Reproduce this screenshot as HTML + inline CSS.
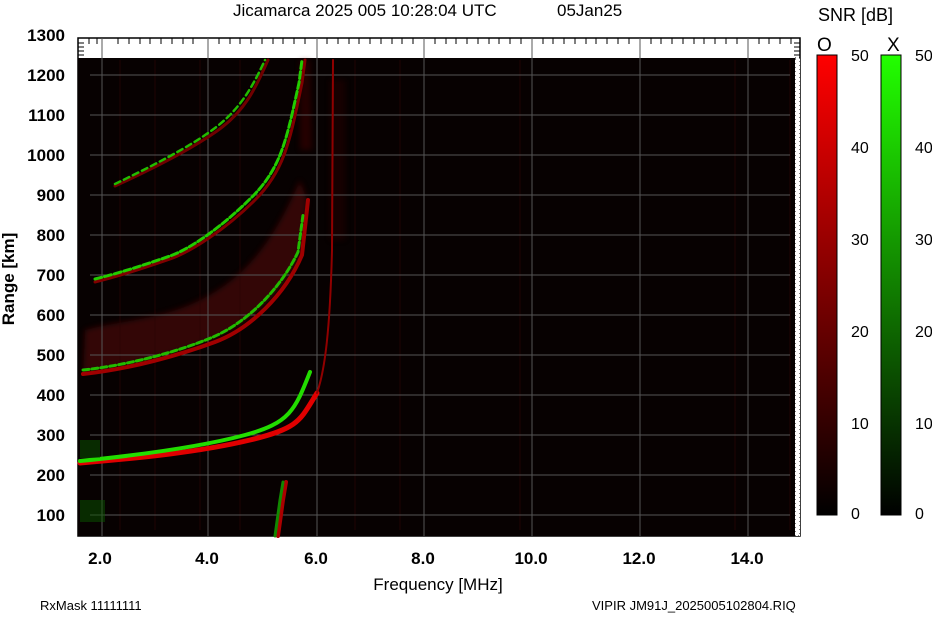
<!DOCTYPE html>
<html><head><meta charset="utf-8"><style>
html,body{margin:0;padding:0;background:#fff;}
body{width:932px;height:614px;overflow:hidden;font-family:"Liberation Sans",Arial,sans-serif;}
</style></head><body>
<svg width="932" height="614" xmlns="http://www.w3.org/2000/svg" font-family="Liberation Sans, Arial, sans-serif">
<defs>
<linearGradient id="go" x1="0" y1="1" x2="0" y2="0"><stop offset="0" stop-color="#000"/><stop offset="1" stop-color="#ff0000"/></linearGradient>
<linearGradient id="gx" x1="0" y1="1" x2="0" y2="0"><stop offset="0" stop-color="#000"/><stop offset="1" stop-color="#22ff00"/></linearGradient>
<filter id="bl"><feGaussianBlur stdDeviation="3"/></filter>
</defs>
<text x="233" y="16" font-size="17">Jicamarca 2025 005 10:28:04 UTC</text>
<text x="557" y="16" font-size="17">05Jan25</text>
<!-- frame -->
<rect x="78" y="38" width="722" height="498" fill="#fff" stroke="#000" stroke-width="1.5"/>
<rect x="78" y="58" width="717" height="478" fill="#070101"/>
<!-- diffuse red -->
<g filter="url(#bl)" opacity="0.45">
<path d="M83,372 C130,367 180,352 215,338 S285,290 300,255 L307,200 L300,180 C270,250 240,280 200,300 S120,320 85,330 Z" fill="#6a0808"/>
<path d="M300,60 L310,60 L312,150 L300,150 Z" fill="#4a0505"/>
<path d="M330,240 L345,240 L345,80 L330,80 Z" fill="#2a0303"/>
</g>
<g stroke="#2a0404" stroke-width="1" opacity="0.7">
<line x1="120" y1="60" x2="120" y2="530"/><line x1="155" y1="60" x2="155" y2="530"/><line x1="200" y1="60" x2="200" y2="530"/>
<line x1="240" y1="60" x2="240" y2="530"/><line x1="355" y1="60" x2="355" y2="530"/><line x1="400" y1="60" x2="400" y2="530"/>
<line x1="520" y1="60" x2="520" y2="530"/><line x1="640" y1="60" x2="640" y2="530"/><line x1="735" y1="60" x2="735" y2="530"/><line x1="790" y1="60" x2="790" y2="530"/>
</g>
<!-- grid -->
<g stroke="#555" stroke-width="1">
<line x1="90" y1="75" x2="790" y2="75"/><line x1="90" y1="115" x2="790" y2="115"/><line x1="90" y1="155" x2="790" y2="155"/>
<line x1="90" y1="195" x2="790" y2="195"/><line x1="90" y1="235" x2="790" y2="235"/><line x1="90" y1="275" x2="790" y2="275"/>
<line x1="90" y1="315" x2="790" y2="315"/><line x1="90" y1="355" x2="790" y2="355"/><line x1="90" y1="395" x2="790" y2="395"/>
<line x1="90" y1="435" x2="790" y2="435"/><line x1="90" y1="475" x2="790" y2="475"/><line x1="90" y1="515" x2="790" y2="515"/>
<line x1="102" y1="38" x2="102" y2="536"/><line x1="208" y1="38" x2="208" y2="536"/><line x1="317" y1="38" x2="317" y2="536"/>
<line x1="424" y1="38" x2="424" y2="536"/><line x1="532" y1="38" x2="532" y2="536"/><line x1="640" y1="38" x2="640" y2="536"/><line x1="748" y1="38" x2="748" y2="536"/>
</g>
<!-- traces -->
<g fill="none" stroke-linecap="round">
<path d="M80,463 C140,458 200,452 250,440 S300,420 317,393" stroke="#e00000" stroke-width="5"/>
<path d="M80,461 C140,455 200,447 245,435 S295,410 310,372" stroke="#22dd00" stroke-width="4"/>
<path d="M317,393 C325,370 330,330 332,250 L333,60" stroke="#900000" stroke-width="2"/>
<path d="M83,374 C130,369 180,355 215,342 S285,295 302,255 L308,200" stroke="#a00000" stroke-width="4"/>
<path d="M83,370 C130,365 180,351 213,337 S280,290 298,252 L303,215" stroke="#22bb00" stroke-width="3" stroke-dasharray="6 3"/>
<path d="M95,282 C120,276 150,266 170,259 S225,230 255,200 S290,140 302,83 L305,60" stroke="#800000" stroke-width="3"/>
<path d="M95,279 C120,273 150,263 170,256 S222,227 252,197 S287,137 299,83 L302,60" stroke="#22cc00" stroke-width="3" stroke-dasharray="7 3"/>
<path d="M115,186 C150,170 190,150 217,131 S255,90 268,60" stroke="#700000" stroke-width="3"/>
<path d="M115,184 C150,167 190,147 215,128 S252,88 265,60" stroke="#22bb00" stroke-width="2.5" stroke-dasharray="6 4"/>
<path d="M278,536 L283,500 L286,482" stroke="#aa0000" stroke-width="4"/>
<path d="M275,536 L280,500 L283,482" stroke="#118800" stroke-width="3"/>
</g>
<g fill="#0a5500" opacity="0.5">
<rect x="80" y="440" width="20" height="18"/><rect x="80" y="500" width="25" height="22"/>
</g>
<!-- ticks top/right -->
<g stroke="#000" stroke-width="1">
<path d="M89,38v6M97,38v6M118,38v6M129,38v6M140,38v6M150,38v6M161,38v6M172,38v6M183,38v6M193,38v6M219,38v6M230,38v6M240,38v6M251,38v6M262,38v6M273,38v6M283,38v6M294,38v6M305,38v6M327,38v6M338,38v6M349,38v6M359,38v6M370,38v6M381,38v6M392,38v6M402,38v6M413,38v6M435,38v6M446,38v6M456,38v6M467,38v6M478,38v6M489,38v6M499,38v6M510,38v6M521,38v6M543,38v6M553,38v6M564,38v6M575,38v6M586,38v6M596,38v6M607,38v6M618,38v6M629,38v6M651,38v6M661,38v6M672,38v6M683,38v6M694,38v6M704,38v6M715,38v6M726,38v6M737,38v6M759,38v6M769,38v6M780,38v6M791,38v6"/>
<path d="M78,43h6M78,47h6M78,51h6M78,55h6M794,43h6M794,47h6M794,51h6M794,55h6"/>
</g>
<rect x="795" y="58" width="5" height="478" fill="#fff" stroke="#000" stroke-dasharray="1 3"/>
<!-- y labels -->
<g font-size="17" font-weight="bold" text-anchor="end">
<text x="65" y="41">1300</text><text x="65" y="81">1200</text><text x="65" y="121">1100</text><text x="65" y="161">1000</text>
<text x="65" y="201">900</text><text x="65" y="241">800</text><text x="65" y="281">700</text><text x="65" y="321">600</text>
<text x="65" y="361">500</text><text x="65" y="401">400</text><text x="65" y="441">300</text><text x="65" y="481">200</text><text x="65" y="521">100</text>
</g>
<text transform="translate(14,279) rotate(-90)" font-size="17" font-weight="bold" text-anchor="middle">Range [km]</text>
<g font-size="17" font-weight="bold" text-anchor="middle">
<text x="100" y="564">2.0</text><text x="207" y="564">4.0</text><text x="316" y="564">6.0</text><text x="423" y="564">8.0</text>
<text x="531" y="564">10.0</text><text x="639" y="564">12.0</text><text x="747" y="564">14.0</text>
</g>
<text x="438" y="590" font-size="17" text-anchor="middle">Frequency [MHz]</text>
<text x="40" y="610" font-size="13">RxMask 11111111</text>
<text x="592" y="610" font-size="13">VIPIR  JM91J_2025005102804.RIQ</text>
<!-- colorbars -->
<text x="818" y="21" font-size="18">SNR [dB]</text>
<text x="817" y="51" font-size="19">O</text><text x="887" y="51" font-size="19">X</text>
<rect x="817" y="55" width="20" height="460" fill="url(#go)" stroke="#000"/>
<rect x="881" y="55" width="20" height="460" fill="url(#gx)" stroke="#000"/>
<g font-size="16">
<text x="851" y="61">50</text><text x="851" y="153">40</text><text x="851" y="245">30</text><text x="851" y="337">20</text><text x="851" y="429">10</text><text x="851" y="519">0</text>
<text x="915" y="61">50</text><text x="915" y="153">40</text><text x="915" y="245">30</text><text x="915" y="337">20</text><text x="915" y="429">10</text><text x="915" y="519">0</text>
</g>
</svg>
</body></html>
